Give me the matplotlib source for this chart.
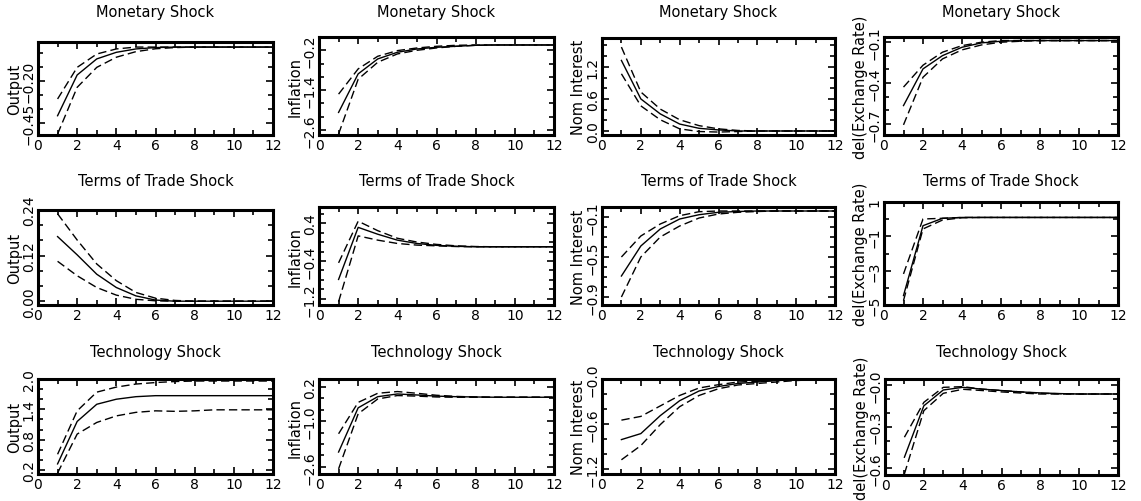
import numpy as np
import matplotlib.pyplot as plt

# impulse responses, horizon 1..12 ; mid = point estimate, hi / lo = bands
horizon = np.arange(1, 13)

shocks = ['Monetary Shock', 'Terms of Trade Shock', 'Technology Shock']
variables = ['Output', 'Inflation', 'Nom Interest', 'del(Exchange Rate)']

# monetary shock
mon_output_mid = [-0.406, -0.165, -0.07, -0.031, -0.011, -0.003, 0.0, 0.0, 0.0, 0.0, 0.0, 0.0]
mon_output_hi = [-0.307, -0.12, -0.041, -0.011, 0.0, 0.0, 0.0, 0.0, 0.0, 0.0, 0.0, 0.0]
mon_output_lo = [-0.514, -0.238, -0.12, -0.06, -0.027, -0.01, -0.003, 0.0, 0.0, 0.0, 0.0, 0.0]

mon_infl_mid = [-2.07, -0.91, -0.46, -0.26, -0.16, -0.11, -0.08, -0.05, -0.04, -0.04, -0.04, -0.04]
mon_infl_hi = [-1.52, -0.76, -0.38, -0.21, -0.13, -0.08, -0.05, -0.04, -0.04, -0.04, -0.04, -0.04]
mon_infl_lo = [-2.72, -1.07, -0.56, -0.31, -0.2, -0.13, -0.08, -0.05, -0.04, -0.04, -0.04, -0.04]

mon_nomint_mid = [1.32, 0.6, 0.32, 0.13, 0.05, 0.02, 0.0, 0.0, 0.0, 0.0, 0.0, 0.0]
mon_nomint_hi = [1.57, 0.73, 0.41, 0.21, 0.1, 0.04, 0.01, 0.0, 0.0, 0.0, 0.0, 0.0]
mon_nomint_lo = [1.07, 0.47, 0.21, 0.04, -0.01, -0.02, -0.01, 0.0, 0.0, 0.0, 0.0, 0.0]

mon_exch_mid = [-0.565, -0.297, -0.2, -0.139, -0.107, -0.095, -0.09, -0.09, -0.09, -0.09, -0.09, -0.09]
mon_exch_hi = [-0.43, -0.27, -0.175, -0.127, -0.102, -0.09, -0.09, -0.09, -0.09, -0.09, -0.09, -0.09]
mon_exch_lo = [-0.706, -0.358, -0.224, -0.158, -0.122, -0.102, -0.095, -0.09, -0.09, -0.09, -0.09, -0.09]

# terms of trade shock
tot_output_mid = [0.17, 0.122, 0.071, 0.036, 0.014, 0.003, 0.0, 0.0, 0.0, 0.0, 0.0, 0.0]
tot_output_hi = [0.23, 0.161, 0.098, 0.054, 0.023, 0.008, 0.002, 0.0, 0.0, 0.0, 0.0, 0.0]
tot_output_lo = [0.105, 0.067, 0.036, 0.016, 0.005, 0.001, 0.0, 0.0, 0.0, 0.0, 0.0, 0.0]

tot_infl_mid = [-0.79, 0.31, 0.165, 0.04, -0.03, -0.07, -0.09, -0.1, -0.1, -0.1, -0.1, -0.1]
tot_infl_hi = [-0.44, 0.44, 0.24, 0.08, 0.0, -0.05, -0.08, -0.095, -0.1, -0.1, -0.1, -0.1]
tot_infl_lo = [-1.26, 0.13, 0.04, -0.03, -0.065, -0.08, -0.095, -0.1, -0.1, -0.1, -0.1, -0.1]

tot_nomint_mid = [-0.69, -0.39, -0.22, -0.12, -0.077, -0.053, -0.045, -0.04, -0.04, -0.04, -0.04, -0.04]
tot_nomint_hi = [-0.5, -0.29, -0.17, -0.087, -0.047, -0.04, -0.04, -0.04, -0.04, -0.04, -0.04, -0.04]
tot_nomint_lo = [-0.9, -0.5, -0.3, -0.19, -0.11, -0.07, -0.053, -0.045, -0.04, -0.04, -0.04, -0.04]

tot_exch_mid = [-4.45, -0.38, 0.05, 0.1, 0.1, 0.1, 0.1, 0.1, 0.1, 0.1, 0.1, 0.1]
tot_exch_hi = [-3.19, 0.01, 0.05, 0.1, 0.1, 0.1, 0.1, 0.1, 0.1, 0.1, 0.1, 0.1]
tot_exch_lo = [-4.74, -0.57, -0.05, 0.08, 0.1, 0.1, 0.1, 0.1, 0.1, 0.1, 0.1, 0.1]

# technology shock
tech_output_mid = [0.32, 1.16, 1.5, 1.6, 1.65, 1.67, 1.67, 1.67, 1.67, 1.67, 1.67, 1.67]
tech_output_hi = [0.51, 1.37, 1.74, 1.84, 1.9, 1.93, 1.95, 1.96, 1.96, 1.96, 1.96, 1.96]
tech_output_lo = [0.14, 0.91, 1.14, 1.27, 1.34, 1.37, 1.36, 1.37, 1.39, 1.39, 1.39, 1.39]

tech_infl_mid = [-2.08, -0.53, -0.14, -0.045, -0.08, -0.12, -0.14, -0.15, -0.16, -0.16, -0.16, -0.16]
tech_infl_hi = [-1.44, -0.34, -0.02, 0.04, -0.02, -0.09, -0.13, -0.15, -0.16, -0.16, -0.16, -0.16]
tech_infl_lo = [-2.67, -0.74, -0.22, -0.1, -0.12, -0.15, -0.16, -0.16, -0.16, -0.16, -0.16, -0.16]

tech_nomint_mid = [-0.81, -0.73, -0.49, -0.29, -0.16, -0.1, -0.06, -0.04, -0.02, -0.01, -0.01, 0.0]
tech_nomint_hi = [-0.55, -0.5, -0.36, -0.22, -0.12, -0.076, -0.04, -0.03, -0.02, -0.01, -0.005, 0.0]
tech_nomint_lo = [-1.08, -0.89, -0.61, -0.37, -0.22, -0.13, -0.08, -0.06, -0.04, -0.02, -0.01, -0.005]

tech_exch_mid = [-0.52, -0.15, -0.036, -0.017, -0.03, -0.04, -0.05, -0.057, -0.062, -0.065, -0.065, -0.065]
tech_exch_hi = [-0.376, -0.125, -0.017, -0.012, -0.03, -0.04, -0.05, -0.06, -0.063, -0.065, -0.065, -0.065]
tech_exch_lo = [-0.64, -0.185, -0.06, -0.031, -0.04, -0.05, -0.058, -0.065, -0.065, -0.065, -0.065, -0.065]

responses = [
    [(mon_output_mid, mon_output_hi, mon_output_lo), (mon_infl_mid, mon_infl_hi, mon_infl_lo),
     (mon_nomint_mid, mon_nomint_hi, mon_nomint_lo), (mon_exch_mid, mon_exch_hi, mon_exch_lo)],
    [(tot_output_mid, tot_output_hi, tot_output_lo), (tot_infl_mid, tot_infl_hi, tot_infl_lo),
     (tot_nomint_mid, tot_nomint_hi, tot_nomint_lo), (tot_exch_mid, tot_exch_hi, tot_exch_lo)],
    [(tech_output_mid, tech_output_hi, tech_output_lo), (tech_infl_mid, tech_infl_hi, tech_infl_lo),
     (tech_nomint_mid, tech_nomint_hi, tech_nomint_lo), (tech_exch_mid, tech_exch_hi, tech_exch_lo)],
]

# y axis: limits, labelled ticks, number of minor subdivisions
y_limits = [
    [(-0.52, 0.03), (-2.75, 0.2), (-0.075, 1.74), (-0.78, -0.064)],
    [(-0.01, 0.24), (-1.33, 0.74), (-0.98, 0.0), (-5.0, 1.0)],
    [(0.12, 2.0), (-2.85, 0.48), (-1.27, 0.0), (-0.648, 0.043)],
]
y_ticks = [
    [[-0.45, -0.20], [-2.6, -1.4, -0.2], [0.0, 0.6, 1.2], [-0.7, -0.4, -0.1]],
    [[0.0, 0.12, 0.24], [-1.2, -0.4, 0.4], [-0.9, -0.5, -0.1], [-5, -3, -1, 1]],
    [[0.2, 0.8, 1.4, 2.0], [-2.6, -1.0, 0.2], [-1.2, -0.6, 0.0], [-0.6, -0.3, 0.0]],
]
y_labels = [
    [['−0.45', '−0.20'], ['−2.6', '−1.4', '−0.2'], ['0.0', '0.6', '1.2'], ['−0.7', '−0.4', '−0.1']],
    [['0.00', '0.12', '0.24'], ['−1.2', '−0.4', '0.4'], ['−0.9', '−0.5', '−0.1'], ['−5', '−3', '−1', '1']],
    [['0.2', '0.8', '1.4', '2.0'], ['−2.6', '−1.0', '0.2'], ['−1.2', '−0.6', '−0.0'], ['−0.6', '−0.3', '−0.0']],
]
y_minor = [[3, 3, 3, 3], [3, 4, 4, 2], [3, 4, 3, 3]]

# panel boxes in pixels: left, top, right, bottom
boxes = [
    [(38, 43, 273, 136), (319, 38, 554, 136), (602, 39, 835, 136), (884, 38, 1118, 136)],
    [(38, 211, 273, 306), (319, 208, 554, 306), (602, 208, 835, 306), (884, 203, 1118, 306)],
    [(38, 380, 273, 475), (319, 380, 554, 475), (602, 380, 835, 475), (885, 380, 1118, 476)],
]
title_y = [12, 182, 353]

W, H = 1141, 502
plt.rcParams['font.family'] = 'DejaVu Sans'
fig = plt.figure(figsize=(W / 100, H / 100), dpi=100)

for r in range(3):
    for c in range(4):
        l, t, rr, b = boxes[r][c]
        ax = fig.add_axes([l / W, 1 - b / H, (rr - l) / W, (b - t) / H])
        mid, hi, lo = responses[r][c]
        ax.plot(horizon, mid, color='black', lw=1.0)
        ax.plot(horizon, hi, color='black', lw=1.0, ls=(0, (6, 3)))
        ax.plot(horizon, lo, color='black', lw=1.0, ls=(0, (6, 3)))

        ax.set_xlim(0, 12)
        ax.set_ylim(*y_limits[r][c])
        ax.set_xticks(range(0, 13, 2))
        ax.set_xticks(range(0, 13), minor=True)
        ax.set_xticklabels([str(v) for v in range(0, 13, 2)], fontsize=10)

        yt = y_ticks[r][c]
        ax.set_yticks(yt, y_labels[r][c], rotation=90, va='center', fontsize=10)
        step = (yt[1] - yt[0]) / y_minor[r][c]
        lo_lim, hi_lim = y_limits[r][c]
        k0 = int(np.floor((lo_lim - yt[0]) / step))
        k1 = int(np.ceil((hi_lim - yt[0]) / step))
        ax.set_yticks([yt[0] + k * step for k in range(k0, k1 + 1)
                       if lo_lim <= yt[0] + k * step <= hi_lim], minor=True)

        ax.tick_params(which='both', direction='in', top=True, right=True, width=1.2)
        ax.tick_params(axis='x', pad=2)
        ax.tick_params(axis='y', pad=1.5)
        ax.tick_params(which='major', length=5)
        ax.tick_params(which='minor', length=3.5)
        for s in ax.spines.values():
            s.set_linewidth(2.2)

        ax.text(-23.5 / (rr - l), 0.5, variables[c], transform=ax.transAxes,
                rotation=90, ha='center', va='center', fontsize=10.5)
        fig.text((l + rr) / 2 / W, 1 - title_y[r] / H, shocks[r],
                 ha='center', va='center', fontsize=10.5)

fig.savefig('out.png', dpi=100)
